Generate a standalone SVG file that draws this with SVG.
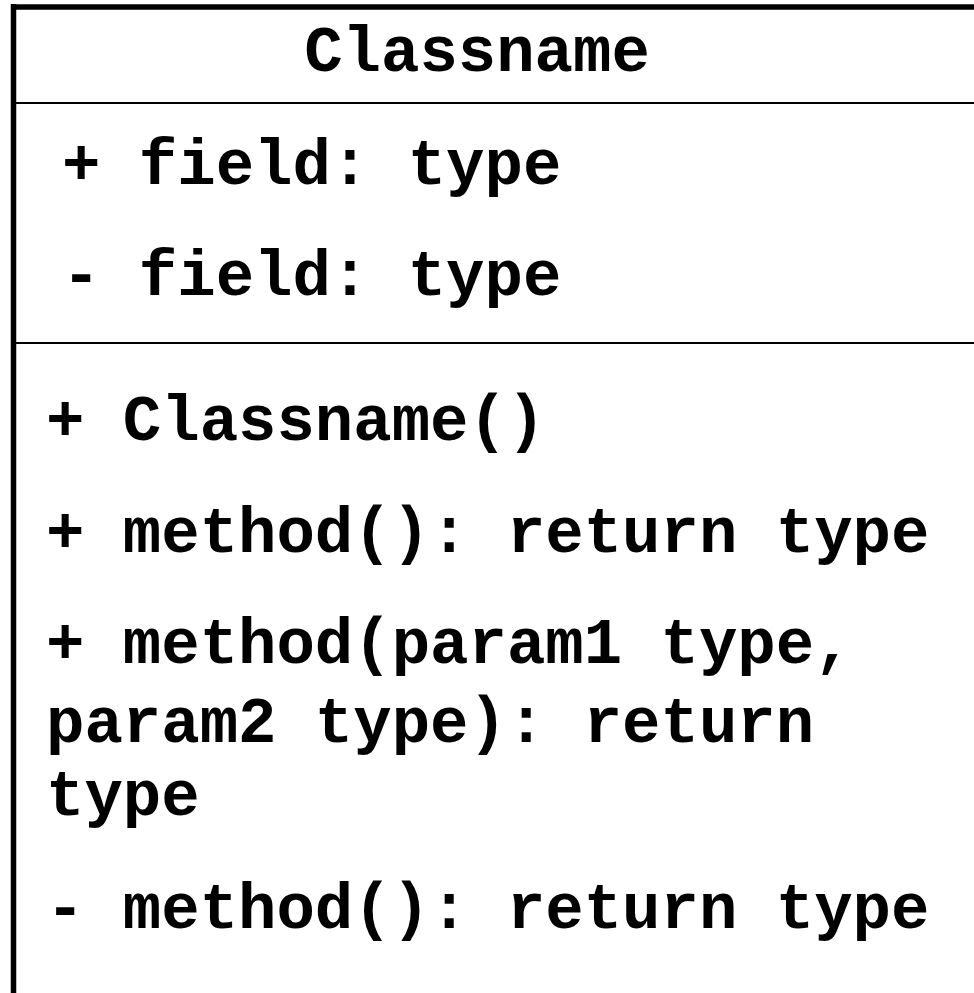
<svg xmlns="http://www.w3.org/2000/svg" width="974" height="993" viewBox="0 0 974 993">
<style>
.t{font-family:"Liberation Mono","Courier New",monospace;font-weight:bold;font-size:64px;fill:#000}
.b{stroke:#000;fill:none}
</style>
<rect width="974" height="993" fill="#fff"/>
<g id="classbox">
<line class="b" x1="11" y1="7" x2="974" y2="7" stroke-width="5.5"/>
<line class="b" x1="13.5" y1="4" x2="13.5" y2="993" stroke-width="5.5"/>
<line class="b" x1="16" y1="103" x2="974" y2="103" stroke-width="2.2"/>
<line class="b" x1="16" y1="343" x2="974" y2="343" stroke-width="2.2"/>
<text class="t" x="477" y="71" text-anchor="middle">Classname</text>
<text class="t" x="62" y="184" xml:space="preserve">+ field: type</text>
<text class="t" x="62" y="295" xml:space="preserve">- field: type</text>
<text class="t" x="46" y="440" xml:space="preserve">+ Classname()</text>
<text class="t" x="46" y="552" xml:space="preserve">+ method(): return type</text>
<text class="t" x="46" y="663" xml:space="preserve">+ method(param1 type,</text>
<text class="t" x="46" y="742" xml:space="preserve">param2 type): return</text>
<text class="t" x="46" y="815" xml:space="preserve">type</text>
<text class="t" x="46" y="928" xml:space="preserve">- method(): return type</text>
</g>
</svg>
